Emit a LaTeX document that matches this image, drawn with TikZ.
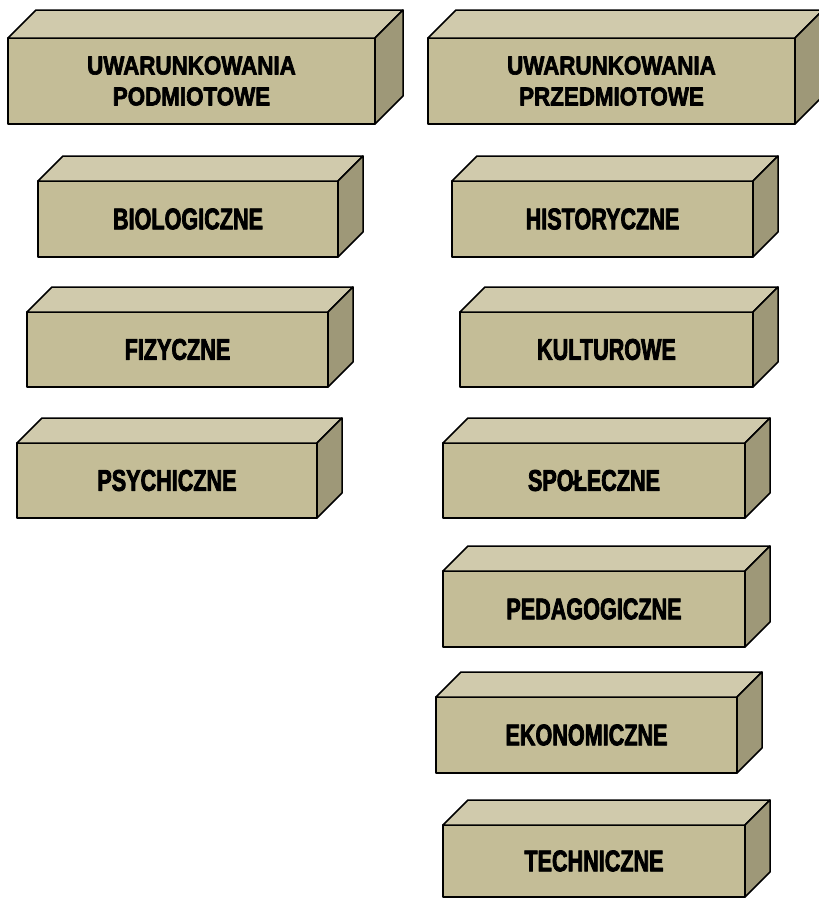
\documentclass[tikz,border=0pt]{standalone}
\usepackage{fontspec}
\setmainfont{Liberation Sans}
\newfontfamily\narrowsingle{Liberation Sans Bold}[FakeStretch=0.72, FakeBold=2.5]
\newfontfamily\narrowdouble{Liberation Sans Bold}[FakeStretch=0.86, FakeBold=2.5]
\definecolor{frontc}{HTML}{C4BD97}
\definecolor{topc}{HTML}{D0CAAC}
\definecolor{sidec}{HTML}{9E9878}
\tikzset{
  front/.style={draw=black, fill=frontc, line width=1.5pt, line join=round,
    inner sep=0pt, outer sep=0pt, align=center,
    font=\narrowsingle\fontsize{30}{33}\selectfont},
  bigfront/.style={front, font=\narrowdouble\fontsize{26}{31}\selectfont},
  topface/.style={draw=black, fill=topc, line width=1.5pt, line join=round},
  sideface/.style={draw=black, fill=sidec, line width=1.5pt, line join=round}
}
% #1 style, #2 name, #3 left, #4 top, #5 right, #6 bottom, #7 depth, #8 text
\newcommand\mycuboid[8]{%
  \node[#1, minimum width={(#5-#3)*1pt}, minimum height={(#6-#4)*1pt}]
    (#2) at ({(#3+#5)/2},{(#4+#6)/2}) {#8};
  \draw[topface] (#2.north west) -- ++(#7,-#7)
    -- ([shift={(#7,-#7)}]#2.north east) -- (#2.north east) -- cycle;
  \draw[sideface] (#2.north east) -- ++(#7,-#7)
    -- ([shift={(#7,-#7)}]#2.south east) -- (#2.south east) -- cycle;
}
\begin{document}
\begin{tikzpicture}[x=1pt, y=-1pt]
\useasboundingbox (0,0) rectangle (819,898);
\mycuboid{bigfront}{pod}{8}{38}{375}{124}{28}{UWARUNKOWANIA\\PODMIOTOWE}
\mycuboid{bigfront}{przed}{428}{38}{795}{124}{28}{UWARUNKOWANIA\\PRZEDMIOTOWE}
\mycuboid{front}{bio}{38}{181}{338}{257}{25}{BIOLOGICZNE}
\mycuboid{front}{fiz}{27}{312}{328}{387}{25}{FIZYCZNE}
\mycuboid{front}{psy}{17}{443}{317}{518}{25}{PSYCHICZNE}
\mycuboid{front}{his}{452}{181}{753}{257}{25}{HISTORYCZNE}
\mycuboid{front}{kul}{460}{312}{753}{387}{25}{KULTUROWE}
\mycuboid{front}{spo}{443}{443}{745}{518}{25}{SPOŁECZNE}
\mycuboid{front}{ped}{443}{571}{745}{647}{25}{PEDAGOGICZNE}
\mycuboid{front}{eko}{436}{697}{737}{773}{25}{EKONOMICZNE}
\mycuboid{front}{tec}{443}{825}{745}{897}{25}{TECHNICZNE}
\end{tikzpicture}
\end{document}
